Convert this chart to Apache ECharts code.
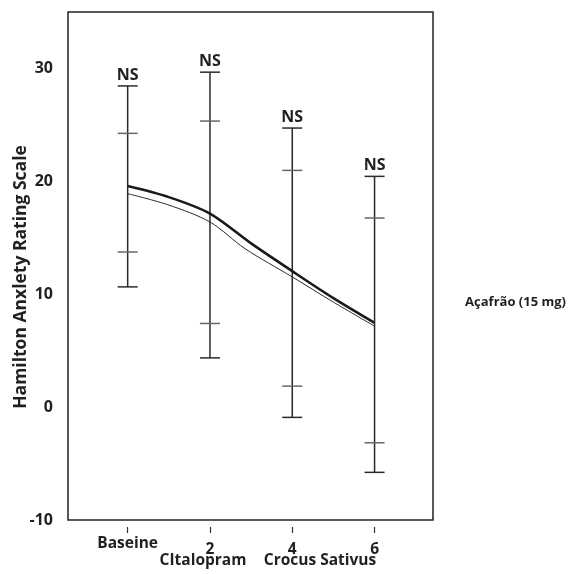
<!DOCTYPE html>
<html><head><meta charset="utf-8">
<script src="https://cdn.jsdelivr.net/npm/echarts@6/dist/echarts.min.js"></script>
<style>html,body{margin:0;padding:0;background:#fff}#c{width:568px;height:574px}</style>
</head><body><div id="c"></div>
<script>
// ---- data ----
const timePoints = [0, 2, 4, 6];
const tickLabels = ['Baseine', '2', '4', '6'];
const outerHigh = [28.45, 29.67, 24.72, 20.44];
const innerHigh = [24.25, 25.34, 20.97, 16.75];
const innerLow  = [13.74, 7.41, 1.86, -3.16];
const outerLow  = [10.65, 4.36, -0.91, -5.78];
const sigLabels = ['NS', 'NS', 'NS', 'NS'];
const thickX = [0, 1, 2, 3, 4, 5, 6];
const thickY = [19.58, 18.6, 17.14, 14.5, 12.04, 9.65, 7.46];
const thinX  = [0, 1, 2, 2.85, 4, 5, 6];
const thinY  = [18.91, 17.9, 16.4, 14.04, 11.53, 9.3, 7.17];
const yTickValues = [-10, 0, 10, 20, 30];
const yTitle = 'Hamilton Anxlety Rating Scale';
const groupLabels = ['CItalopram', 'Crocus Sativus'];
const sideLabel = 'Açafrão (15 mg)';

const FONT = '"Open Sans", "Noto Sans", sans-serif';
const TXT = '#231f20';
const chart = echarts.init(document.getElementById('c'), null, {renderer: 'canvas'});

const barData = timePoints.map((t, i) => [t, outerHigh[i], innerHigh[i], innerLow[i], outerLow[i]]);

chart.setOption({
  animation: false,
  backgroundColor: '#fff',
  grid: {left: 68, right: 135, top: 12, bottom: 54, show: true, borderColor: '#222', borderWidth: 1.5, backgroundColor: 'transparent'},
  xAxis: {
    type: 'value', min: -1.45, max: 7.42, offset: 7,
    axisLine: {show: false, onZero: false},
    splitLine: {show: false},
    axisTick: {show: true, length: 6, lineStyle: {color: '#333', width: 1.2}, customValues: timePoints},
    axisLabel: {
      customValues: timePoints, margin: 9,
      formatter: v => {
        const i = timePoints.indexOf(v);
        if (i < 0) return '';
        return i === 0 ? '{b|' + tickLabels[i] + '}' : '{d|' + tickLabels[i] + '}';
      },
      rich: {
        b: {fontFamily: FONT, fontWeight: 'bold', fontSize: 15.5, color: TXT},
        d: {fontFamily: FONT, fontWeight: 'bold', fontSize: 15.5, color: TXT, padding: [6, 0, 0, 0]}
      }
    }
  },
  yAxis: {
    type: 'value', min: -10, max: 35, interval: 10,
    axisLine: {show: false}, axisTick: {show: false}, splitLine: {show: false},
    axisLabel: {
      margin: 15, fontFamily: FONT, fontWeight: 'bold', fontSize: 16, color: TXT,
      formatter: v => yTickValues.indexOf(v) >= 0 ? String(v) : ''
    }
  },
  graphic: [
    {type: 'text', x: 21, y: 277, rotation: Math.PI / 2, style: {text: yTitle, fontFamily: FONT, fontWeight: 'bold', fontSize: 17.5, fill: TXT, align: 'center', verticalAlign: 'middle'}},
    {type: 'text', x: 203, y: 561, style: {text: groupLabels[0], fontFamily: FONT, fontWeight: 'bold', fontSize: 15.5, fill: TXT, align: 'center', verticalAlign: 'middle'}},
    {type: 'text', x: 320, y: 561, style: {text: groupLabels[1], fontFamily: FONT, fontWeight: 'bold', fontSize: 15.5, fill: TXT, align: 'center', verticalAlign: 'middle'}},
    {type: 'text', x: 566, y: 302, style: {text: sideLabel, fontFamily: FONT, fontWeight: 'bold', fontSize: 13, fill: TXT, align: 'right', verticalAlign: 'middle'}}
  ],
  series: [
    {
      type: 'custom',
      data: barData,
      z: 2,
      renderItem: (params, api) => {
        const x = api.value(0);
        const pOH = api.coord([x, api.value(1)]);
        const pIH = api.coord([x, api.value(2)]);
        const pIL = api.coord([x, api.value(3)]);
        const pOL = api.coord([x, api.value(4)]);
        const hw = 10;
        const cap = (p, col) => ({type: 'line', shape: {x1: p[0] - hw, y1: p[1], x2: p[0] + hw, y2: p[1]}, style: {stroke: col, lineWidth: 1.5}});
        return {
          type: 'group',
          children: [
            {type: 'line', shape: {x1: pOH[0], y1: pOH[1], x2: pOL[0], y2: pOL[1]}, style: {stroke: '#2a2a2a', lineWidth: 1.5}},
            cap(pOH, '#2a2a2a'),
            cap(pIH, '#666'),
            cap(pIL, '#666'),
            cap(pOL, '#2a2a2a'),
            {type: 'text', x: pOH[0], y: pOH[1] - 3, style: {text: sigLabels[params.dataIndex], fontFamily: FONT, fontWeight: 'bold', fontSize: 16, fill: TXT, align: 'center', verticalAlign: 'bottom'}}
          ]
        };
      }
    },
    {type: 'line', data: thickX.map((x, i) => [x, thickY[i]]), symbol: 'none', smooth: 0.3, z: 3,
     lineStyle: {color: '#1a1a1a', width: 2.6}},
    {type: 'line', data: thinX.map((x, i) => [x, thinY[i]]), symbol: 'none', smooth: 0.3, z: 3,
     lineStyle: {color: '#2a2a2a', width: 1}}
  ]
});
</script>
</body></html>
